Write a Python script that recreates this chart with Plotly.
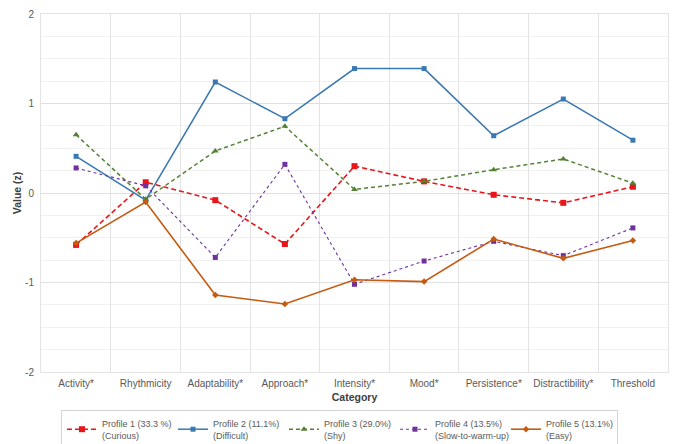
import plotly.graph_objects as go

categories = ["Activity*", "Rhythmicity", "Adaptability*", "Approach*", "Intensity*",
              "Mood*", "Persistence*", "Distractibility*", "Threshold"]

profile1 = [-0.58, 0.12, -0.08, -0.57, 0.30, 0.13, -0.02, -0.11, 0.07]
profile2 = [0.41, -0.08, 1.24, 0.83, 1.39, 1.39, 0.64, 1.05, 0.59]
profile3 = [0.65, -0.07, 0.47, 0.745, 0.04, 0.13, 0.26, 0.38, 0.11]
profile4 = [0.28, 0.08, -0.72, 0.32, -1.02, -0.76, -0.54, -0.70, -0.39]
profile5 = [-0.56, -0.10, -1.14, -1.24, -0.97, -0.99, -0.515, -0.73, -0.53]

names = ["Profile 1 (33.3 %)<br>(Curious)", "Profile 2 (11.1%)<br>(Difficult)",
         "Profile 3 (29.0%)<br>(Shy)", "Profile 4 (13.5%)<br>(Slow-to-warm-up)",
         "Profile 5 (13.1%)<br>(Easy)"]

y_tickvals = [-2, -1, 0, 1, 2]
y_ticktext = ["-2", "-1", "0", "1", "2"]

styles = [
    dict(color="#E8161B", dash="5px,3px", width=1.6, symbol="square", size=6),
    dict(color="#3A78B2", dash="solid", width=1.5, symbol="square", size=5),
    dict(color="#548235", dash="4px,3px", width=1.5, symbol="triangle-up", size=6),
    dict(color="#7030A0", dash="dot", width=1.1, symbol="square", size=5),
    dict(color="#C55A11", dash="solid", width=1.6, symbol="diamond", size=5),
]

series = [profile1, profile2, profile3, profile4, profile5]

FONT = "Liberation Sans, Arial, sans-serif"
W, H = 672, 436  # page body has an 8px margin inside the 680x444 window

fig = go.Figure()
for vals, nm, st in zip(series, names, styles):
    fig.add_trace(go.Scatter(
        x=categories, y=vals, name=nm, mode="lines+markers",
        line=dict(color=st["color"], dash=st["dash"], width=st["width"]),
        marker=dict(color=st["color"], symbol=st["symbol"], size=st["size"]),
    ))

fig.update_layout(
    width=W, height=H,
    margin=dict(l=33, r=12, t=6, b=72),
    paper_bgcolor="white", plot_bgcolor="white",
    font=dict(family=FONT, size=10, color="#595959"),
    showlegend=True,
    legend=dict(orientation="h", xref="container", yref="container",
                x=53 / W, xanchor="left", y=1 - 402 / H, yanchor="top",
                bordercolor="#d4d4d4", borderwidth=1, font=dict(size=9, color="#595959"),
                entrywidth=66, tracegroupgap=0),
    xaxis=dict(
        type="category", tickson="boundaries", showgrid=True, gridcolor="#e3e3e3",
        gridwidth=1, ticks="", showline=True, linecolor="#e3e3e3", mirror=True,
        tickangle=0, automargin=False, ticklabelstandoff=2,
        title=dict(text="<b>Category</b>", font=dict(size=10.5, color="#404040"), standoff=5),
        tickfont=dict(size=10, color="#595959"),
    ),
    yaxis=dict(
        range=[-2, 2], tickvals=y_tickvals, ticktext=y_ticktext,
        showgrid=True, gridcolor="#e0e0e0", gridwidth=1,
        zeroline=True, zerolinecolor="#e0e0e0", zerolinewidth=1,
        showline=True, linecolor="#e3e3e3", mirror=True, ticks="", automargin=False,
        ticklabelstandoff=4, ticklabeloverflow="allow",
        minor=dict(dtick=0.25, showgrid=True, gridcolor="#f0f0f0", gridwidth=1),
        title=dict(text="<b>Value (z)</b>", font=dict(size=10.5, color="#404040"), standoff=1),
        tickfont=dict(size=10, color="#595959"),
    ),
)

fig.write_html("out.html")
